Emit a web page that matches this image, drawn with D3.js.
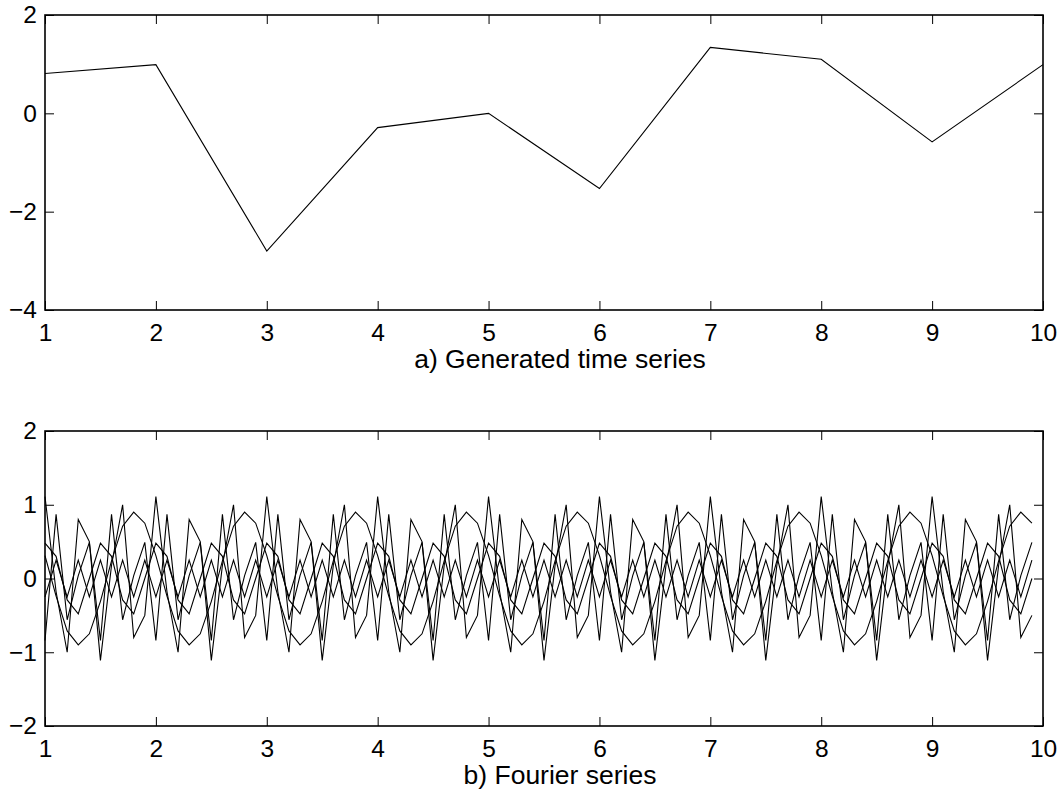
<!DOCTYPE html>
<html>
<head>
<meta charset="utf-8">
<script src="https://d3js.org/d3.v7.min.js"></script>
<style>
  body { margin: 0; background: #fff; }
  text { font-family: "Liberation Sans", Arial, Helvetica, sans-serif; fill: #000; }
  .axis text { font-size: 24.5px; }
  .axis line { stroke: #000; stroke-width: 1; }
  .axis path { display: none; }
  .title { font-size: 26.5px; }
  .series { fill: none; stroke: #000; stroke-width: 1.1; }
</style>
</head>
<body>
<svg width="1063" height="794"></svg>
<script>
// a) the generated series
var timeX = [1, 2, 3, 4, 5, 6, 7, 8, 9, 10];
var timeSeries = [0.81, 0.99, -2.80, -0.29, 0.00, -1.53, 1.34, 1.10, -0.58, 0.99];

var xTicks = [1, 2, 3, 4, 5, 6, 7, 8, 9, 10];
var yTicksTop = [-4, -2, 0, 2];
var yTicksBottom = [-2, -1, 0, 1, 2];

// b) the harmonics, sampled every 0.1
var fourierX = [
  1.0, 1.1, 1.2, 1.3, 1.4, 1.5, 1.6, 1.7, 1.8, 1.9,
  2.0, 2.1, 2.2, 2.3, 2.4, 2.5, 2.6, 2.7, 2.8, 2.9,
  3.0, 3.1, 3.2, 3.3, 3.4, 3.5, 3.6, 3.7, 3.8, 3.9,
  4.0, 4.1, 4.2, 4.3, 4.4, 4.5, 4.6, 4.7, 4.8, 4.9,
  5.0, 5.1, 5.2, 5.3, 5.4, 5.5, 5.6, 5.7, 5.8, 5.9,
  6.0, 6.1, 6.2, 6.3, 6.4, 6.5, 6.6, 6.7, 6.8, 6.9,
  7.0, 7.1, 7.2, 7.3, 7.4, 7.5, 7.6, 7.7, 7.8, 7.9,
  8.0, 8.1, 8.2, 8.3, 8.4, 8.5, 8.6, 8.7, 8.8, 8.9,
  9.0, 9.1, 9.2, 9.3, 9.4, 9.5, 9.6, 9.7, 9.8, 9.9
];

var harmonic1 = [
  0.31, -0.24, -0.71, -0.90, -0.75, -0.31, 0.24, 0.71, 0.90, 0.75,
  0.31, -0.24, -0.71, -0.90, -0.75, -0.31, 0.24, 0.71, 0.90, 0.75,
  0.31, -0.24, -0.71, -0.90, -0.75, -0.31, 0.24, 0.71, 0.90, 0.75,
  0.31, -0.24, -0.71, -0.90, -0.75, -0.31, 0.24, 0.71, 0.90, 0.75,
  0.31, -0.24, -0.71, -0.90, -0.75, -0.31, 0.24, 0.71, 0.90, 0.75,
  0.31, -0.24, -0.71, -0.90, -0.75, -0.31, 0.24, 0.71, 0.90, 0.75,
  0.31, -0.24, -0.71, -0.90, -0.75, -0.31, 0.24, 0.71, 0.90, 0.75,
  0.31, -0.24, -0.71, -0.90, -0.75, -0.31, 0.24, 0.71, 0.90, 0.75,
  0.31, -0.24, -0.71, -0.90, -0.75, -0.31, 0.24, 0.71, 0.90, 0.75
];

var harmonic2 = [
  0.48, 0.30, -0.29, -0.48, 0.00, 0.48, 0.30, -0.29, -0.48, 0.00,
  0.48, 0.30, -0.29, -0.48, 0.00, 0.48, 0.30, -0.29, -0.48, 0.00,
  0.48, 0.30, -0.29, -0.48, 0.00, 0.48, 0.30, -0.29, -0.48, 0.00,
  0.48, 0.30, -0.29, -0.48, 0.00, 0.48, 0.30, -0.29, -0.48, 0.00,
  0.48, 0.30, -0.29, -0.48, 0.00, 0.48, 0.30, -0.29, -0.48, 0.00,
  0.48, 0.30, -0.29, -0.48, 0.00, 0.48, 0.30, -0.29, -0.48, 0.00,
  0.48, 0.30, -0.29, -0.48, 0.00, 0.48, 0.30, -0.29, -0.48, 0.00,
  0.48, 0.30, -0.29, -0.48, 0.00, 0.48, 0.30, -0.29, -0.48, 0.00,
  0.48, 0.30, -0.29, -0.48, 0.00, 0.48, 0.30, -0.29, -0.48, 0.00
];

var harmonic3 = [
  1.11, -0.18, -1.00, 0.80, 0.50, -1.11, 0.18, 1.00, -0.80, -0.50,
  1.11, -0.18, -1.00, 0.80, 0.50, -1.11, 0.18, 1.00, -0.80, -0.50,
  1.11, -0.18, -1.00, 0.80, 0.50, -1.11, 0.18, 1.00, -0.80, -0.50,
  1.11, -0.18, -1.00, 0.80, 0.50, -1.11, 0.18, 1.00, -0.80, -0.50,
  1.11, -0.18, -1.00, 0.80, 0.50, -1.11, 0.18, 1.00, -0.80, -0.50,
  1.11, -0.18, -1.00, 0.80, 0.50, -1.11, 0.18, 1.00, -0.80, -0.50,
  1.11, -0.18, -1.00, 0.80, 0.50, -1.11, 0.18, 1.00, -0.80, -0.50,
  1.11, -0.18, -1.00, 0.80, 0.50, -1.11, 0.18, 1.00, -0.80, -0.50,
  1.11, -0.18, -1.00, 0.80, 0.50, -1.11, 0.18, 1.00, -0.80, -0.50
];

var harmonic4 = [
  -0.84, 0.87, -0.56, 0.04, 0.49, -0.84, 0.87, -0.56, 0.04, 0.49,
  -0.84, 0.87, -0.56, 0.04, 0.49, -0.84, 0.87, -0.56, 0.04, 0.49,
  -0.84, 0.87, -0.56, 0.04, 0.49, -0.84, 0.87, -0.56, 0.04, 0.49,
  -0.84, 0.87, -0.56, 0.04, 0.49, -0.84, 0.87, -0.56, 0.04, 0.49,
  -0.84, 0.87, -0.56, 0.04, 0.49, -0.84, 0.87, -0.56, 0.04, 0.49,
  -0.84, 0.87, -0.56, 0.04, 0.49, -0.84, 0.87, -0.56, 0.04, 0.49,
  -0.84, 0.87, -0.56, 0.04, 0.49, -0.84, 0.87, -0.56, 0.04, 0.49,
  -0.84, 0.87, -0.56, 0.04, 0.49, -0.84, 0.87, -0.56, 0.04, 0.49,
  -0.84, 0.87, -0.56, 0.04, 0.49, -0.84, 0.87, -0.56, 0.04, 0.49
];

var harmonic5 = [
  -0.25, 0.25, -0.25, 0.25, -0.25, 0.25, -0.25, 0.25, -0.25, 0.25,
  -0.25, 0.25, -0.25, 0.25, -0.25, 0.25, -0.25, 0.25, -0.25, 0.25,
  -0.25, 0.25, -0.25, 0.25, -0.25, 0.25, -0.25, 0.25, -0.25, 0.25,
  -0.25, 0.25, -0.25, 0.25, -0.25, 0.25, -0.25, 0.25, -0.25, 0.25,
  -0.25, 0.25, -0.25, 0.25, -0.25, 0.25, -0.25, 0.25, -0.25, 0.25,
  -0.25, 0.25, -0.25, 0.25, -0.25, 0.25, -0.25, 0.25, -0.25, 0.25,
  -0.25, 0.25, -0.25, 0.25, -0.25, 0.25, -0.25, 0.25, -0.25, 0.25,
  -0.25, 0.25, -0.25, 0.25, -0.25, 0.25, -0.25, 0.25, -0.25, 0.25,
  -0.25, 0.25, -0.25, 0.25, -0.25, 0.25, -0.25, 0.25, -0.25, 0.25
];

var svg = d3.select("svg"),
    left = 45,
    right = 1043,
    fmt = d3.format("d");

var x = d3.scaleLinear().domain([1, 10]).range([left, right]);

function panel(top, bottom, yDomain, yTicks, xs, seriesList, title, titleY) {
  var y = d3.scaleLinear().domain(yDomain).range([bottom, top]);
  var g = svg.append("g");

  var line = d3.line()
      .x(function(d, i) { return x(xs[i]); })
      .y(function(d) { return y(d); });

  g.selectAll(".series")
    .data(seriesList)
    .enter().append("path")
      .attr("class", "series")
      .attr("d", line);

  g.append("g")
      .attr("class", "axis")
      .attr("transform", "translate(0," + bottom + ")")
      .call(d3.axisBottom(x).tickValues(xTicks).tickSize(-9).tickPadding(14).tickFormat(fmt));

  g.append("g")
      .attr("class", "axis")
      .attr("transform", "translate(0," + top + ")")
      .call(d3.axisTop(x).tickValues(xTicks).tickSize(-9).tickFormat(""));

  g.append("g")
      .attr("class", "axis")
      .attr("transform", "translate(" + left + ",0)")
      .call(d3.axisLeft(y).tickValues(yTicks).tickSize(-9).tickPadding(8).tickFormat(fmt));

  g.append("g")
      .attr("class", "axis")
      .attr("transform", "translate(" + right + ",0)")
      .call(d3.axisRight(y).tickValues(yTicks).tickSize(-9).tickFormat(""));

  g.append("rect")
      .attr("x", left)
      .attr("y", top)
      .attr("width", right - left)
      .attr("height", bottom - top)
      .attr("fill", "none")
      .attr("stroke", "#000")
      .attr("stroke-width", 1.6);

  g.append("text")
      .attr("class", "title")
      .attr("x", 560)
      .attr("y", titleY)
      .style("text-anchor", "middle")
      .text(title);
}

panel(15, 310, [-4, 2], yTicksTop, timeX, [timeSeries], "a) Generated time series", 368);
panel(431, 726, [-2, 2], yTicksBottom, fourierX,
      [harmonic1, harmonic2, harmonic3, harmonic4, harmonic5], "b) Fourier series", 784);
</script>
</body>
</html>
